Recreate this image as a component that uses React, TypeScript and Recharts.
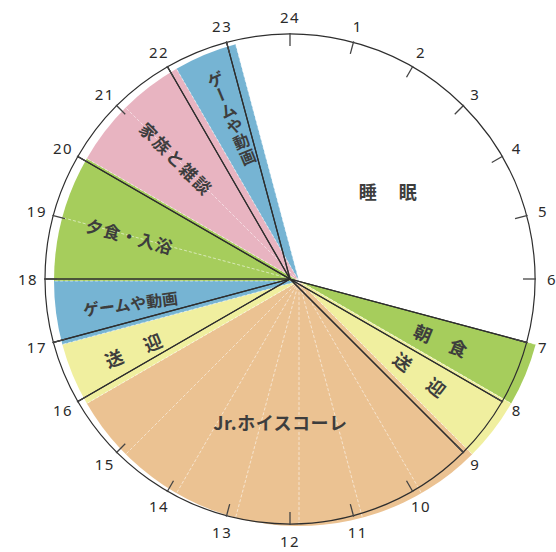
import React from "react";
import { PieChart, Pie, Cell } from "recharts";

// ---- data ----
const segNames = ["睡　眠", "朝　食", "送　迎", "Jr.ホイスコーレ", "送　迎", "ゲームや動画", "夕食・入浴", "家族と雑談", "ゲームや動画"];
const segHours = [8, 1, 1, 7, 1, 1, 2, 2, 1];
const segColors = ["#ffffff", "#a6cd5c", "#f0ef9f", "#ebc292", "#f0ef9f", "#76b4d3", "#a6cd5c", "#e8b4c1", "#76b4d3"];
const hourLabels = ["24", "1", "2", "3", "4", "5", "6", "7", "8", "9", "10", "11", "12", "13", "14", "15", "16", "17", "18", "19", "20", "21", "22", "23"];
const hourSlots = [1, 1, 1, 1, 1, 1, 1, 1, 1, 1, 1, 1, 1, 1, 1, 1, 1, 1, 1, 1, 1, 1, 1, 1];
const startHour = 23;

const segData = segNames.map((name, i) => ({ name, value: segHours[i] }));
const hourData = hourLabels.map((label, i) => ({ name: label, value: hourSlots[i] }));

// ---- layout / style ----
const W = 556;
const H = 552;
const FCX = 299; // fill centre
const FCY = 281;
const LCX = 290; // drawn outline centre
const LCY = 279;
const R = 245;
const START = 90 - startHour * 15 + 360; // 105
const TEXT = "#3d3d3d";
const FONT = "'Noto Sans CJK JP', 'Noto Sans', sans-serif";

type LabelCfg = { mode: "h" | "radial" | "vertical"; r: number; size: number; ls: number };
const SEG_LABEL: LabelCfg[] = [
  { mode: "h", r: 127, size: 18, ls: 2 },
  { mode: "radial", r: 154, size: 18, ls: 1 },
  { mode: "radial", r: 154, size: 18, ls: 3 },
  { mode: "h", r: 142, size: 18, ls: 0.5 },
  { mode: "radial", r: 178, size: 18, ls: 3 },
  { mode: "radial", r: 170, size: 16, ls: 0 },
  { mode: "radial", r: 175, size: 17, ls: 1 },
  { mode: "radial", r: 173, size: 17, ls: 2 },
  { mode: "vertical", r: 177, size: 16, ls: 0 },
];

const RAD = Math.PI / 180;

const renderSegLabel = (props: any) => {
  const { midAngle, index, name } = props;
  const cfg = SEG_LABEL[index];
  const a = -midAngle * RAD;
  const x = FCX + cfg.r * Math.cos(a);
  const y = FCY + cfg.r * Math.sin(a);
  const cw = (((90 - midAngle) % 360) + 360) % 360;
  const text = segNames[index] ?? name;
  if (cfg.mode === "vertical") {
    const chars = Array.from(text);
    const step = cfg.size + 0.8;
    const rot = cw - 360;
    return (
      <g key={`sl-${index}`} transform={`translate(${x},${y}) rotate(${rot})`}>
        {chars.map((c, k) => {
          const cy = (k - (chars.length - 1) / 2) * step;
          return (
            <text
              key={k}
              x={0}
              y={cy}
              textAnchor="middle"
              dominantBaseline="central"
              fontFamily={FONT}
              fontWeight={700}
              fontSize={cfg.size}
              fill={TEXT}
              transform={c === "ー" ? `rotate(90 0 ${cy})` : undefined}
            >
              {c}
            </text>
          );
        })}
      </g>
    );
  }
  let rot = 0;
  if (cfg.mode === "radial") rot = cw < 180 ? cw - 90 : cw - 270;
  return (
    <text
      key={`sl-${index}`}
      x={x}
      y={y}
      textAnchor="middle"
      dominantBaseline="central"
      fontFamily={FONT}
      fontWeight={700}
      fontSize={cfg.size}
      letterSpacing={cfg.ls}
      fill={TEXT}
      transform={rot ? `rotate(${rot} ${x} ${y})` : undefined}
    >
      {text}
    </text>
  );
};

const renderHourLabel = (props: any) => {
  const { midAngle, index } = props;
  const a = -midAngle * RAD;
  const c = Math.cos(a);
  const s = Math.sin(a);
  const tx = LCX + 262 * c;
  const ty = LCY + 262 * s;
  return (
    <g key={`hl-${index}`}>
      <line
        x1={LCX + (R + 1) * c}
        y1={LCY + (R + 1) * s}
        x2={LCX + (R - 12) * c}
        y2={LCY + (R - 12) * s}
        stroke="#444"
        strokeWidth={1.3}
      />
      <text
        x={tx}
        y={ty}
        textAnchor="middle"
        dominantBaseline="central"
        fontFamily="'Noto Sans', 'DejaVu Sans', sans-serif"
        fontSize={15}
        letterSpacing={1.5}
        fill="#2a2a2a"
      >
        {hourLabels[index]}
      </text>
    </g>
  );
};

export default function App() {
  return (
    <div style={{ position: "absolute", left: 0, top: 0, width: W, height: H, background: "#fff" }}>
      <PieChart width={W} height={H} margin={{ top: 0, right: 0, bottom: 0, left: 0 }}>
        <Pie
          data={segData}
          dataKey="value"
          cx={FCX}
          cy={FCY}
          outerRadius={R}
          startAngle={START}
          endAngle={START - 360}
          stroke="none"
          isAnimationActive={false}
          labelLine={false}
          label={renderSegLabel}
        >
          {segData.map((d, i) => (
            <Cell key={i} fill={segColors[i]} />
          ))}
        </Pie>
        <Pie
          data={hourData}
          dataKey="value"
          cx={FCX}
          cy={FCY}
          outerRadius={R + 4}
          startAngle={90}
          endAngle={-270}
          fill="none"
          stroke="#ffffff"
          strokeOpacity={0.45}
          strokeWidth={0.7}
          strokeDasharray="3 2"
          isAnimationActive={false}
          label={false}
        />
        <Pie
          data={segData}
          dataKey="value"
          cx={LCX}
          cy={LCY}
          outerRadius={R}
          startAngle={START}
          endAngle={START - 360}
          fill="none"
          stroke="#2e2e2e"
          strokeWidth={1.2}
          isAnimationActive={false}
          label={false}
        />
        <Pie
          data={hourData}
          dataKey="value"
          cx={LCX}
          cy={LCY}
          outerRadius={R}
          startAngle={97.5}
          endAngle={-262.5}
          fill="none"
          stroke="none"
          isAnimationActive={false}
          labelLine={false}
          label={renderHourLabel}
        />
      </PieChart>
    </div>
  );
}
